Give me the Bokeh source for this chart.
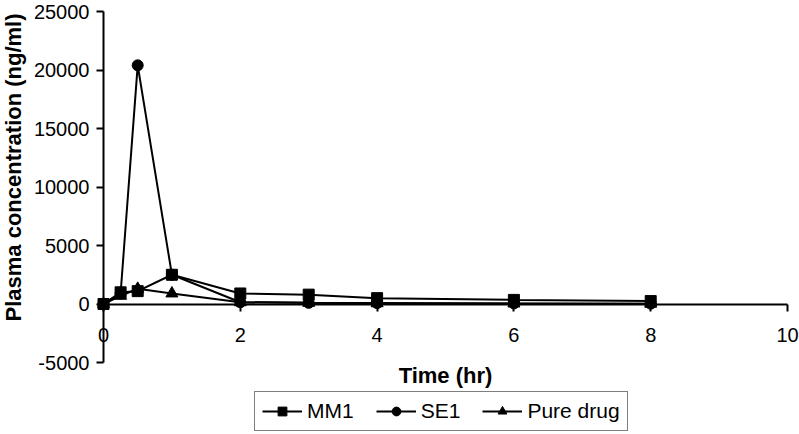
import math
from bokeh.plotting import figure
from bokeh.models import Range1d, FixedTicker, Legend, LegendItem, Label
from bokeh.embed import file_html
from bokeh.resources import INLINE

# ---- data ----
time_hr = [0, 0.25, 0.5, 1, 2, 3, 4, 6, 8]
mm1 = [0, 1000, 1100, 2500, 900, 800, 500, 350, 250]
se1 = [0, 900, 20400, 2500, 150, 100, 80, 50, 30]
pure_drug = [0, 700, 1300, 900, 150, 100, 60, 40, 20]

series_names = ["MM1", "SE1", "Pure drug"]
series_markers = ["square", "circle", "triangle"]

x_ticks = [0, 2, 4, 6, 8, 10]
x_tick_labels = ["0", "2", "4", "6", "8", "10"]
y_ticks = [-5000, 0, 5000, 10000, 15000, 20000, 25000]
y_tick_labels = ["-5000", "0", "5000", "10000", "15000", "20000", "25000"]

x_title = "Time (hr)"
y_title = "Plasma concentration (ng/ml)"

FONT = "Liberation Sans"

# ---- layout (screen px); the frame fills the whole canvas so nothing is clipped,
# the axes are pinned at x = 0 / y = 0 and bounded to the reference's extents ----
W, H = 799, 434
PX_X0, PX_X10 = 103, 787        # pixel columns of x = 0 and x = 10
PX_Y25K, PX_YM5K = 11, 362      # pixel rows of y = 25000 and y = -5000
xpp = 10 / (PX_X10 - PX_X0)
ypp = 30000 / (PX_YM5K - PX_Y25K)
x_lo, x_hi = 0 - PX_X0 * xpp, 10 + (W - PX_X10) * xpp
y_hi, y_lo = 25000 + PX_Y25K * ypp, -5000 - (H - PX_YM5K) * ypp

p = figure(width=W, height=H,
           x_range=Range1d(x_lo, x_hi), y_range=Range1d(y_lo, y_hi),
           output_backend="svg", toolbar_location=None,
           min_border=0, min_border_left=0, min_border_right=0,
           min_border_top=0, min_border_bottom=0)
p.outline_line_color = None
p.xgrid.visible = False
p.ygrid.visible = False
p.background_fill_color = "white"
p.border_fill_color = "white"

xa = p.xaxis[0]
xa.fixed_location = 0
xa.bounds = (0, 10)
xa.ticker = FixedTicker(ticks=x_ticks)
xa.major_label_overrides = {t: s for t, s in zip(x_ticks, x_tick_labels)}
xa.axis_label = x_title
xa.axis_label_standoff = 17
xa.major_label_standoff = 17

ya = p.yaxis[0]
ya.fixed_location = 0
ya.bounds = (-5000, 25000)
ya.ticker = FixedTicker(ticks=y_ticks)
ya.major_label_overrides = {t: s for t, s in zip(y_ticks, y_tick_labels)}
ya.major_label_standoff = 7

for ax in (xa, ya):
    ax.axis_line_color = "black"
    ax.axis_line_width = 2
    ax.major_tick_line_color = "black"
    ax.major_tick_line_width = 2
    ax.major_tick_out = 7
    ax.major_tick_in = 0
    ax.minor_tick_line_color = None
    ax.major_label_text_font = FONT
    ax.major_label_text_font_size = "20px"
    ax.major_label_text_color = "black"
    ax.axis_label_text_font = FONT
    ax.axis_label_text_font_size = "22px"
    ax.axis_label_text_font_style = "bold"
    ax.axis_label_text_color = "black"

# y-axis title (rotated), anchored where the reference has it
ylab = Label(x=13, y=H - 321, x_units="screen", y_units="screen",
             text=y_title, angle=math.pi / 2, text_align="left",
             text_baseline="middle", text_font=FONT, text_font_size="22px",
             text_font_style="bold", text_color="black")
p.add_layout(ylab)

items = []
for name, marker, vals in zip(series_names, series_markers, [mm1, se1, pure_drug]):
    lr = p.line(time_hr, vals, line_color="black", line_width=2)
    sr = p.scatter(time_hr, vals, marker=marker, size=11 if marker != "triangle" else 12,
                   fill_color="black", line_color="black")
    items.append(LegendItem(label=name, renderers=[lr, sr]))

legend = Legend(items=items, orientation="horizontal", location=(254, 3),
                label_text_font=FONT, label_text_font_size="21px",
                label_text_color="black",
                border_line_color="black", border_line_width=1.5,
                background_fill_color="white", background_fill_alpha=1,
                padding=7, spacing=22, glyph_width=40, glyph_height=22,
                label_standoff=5, margin=0)
p.add_layout(legend, "center")

open("out.html", "w").write(file_html(p, INLINE))
